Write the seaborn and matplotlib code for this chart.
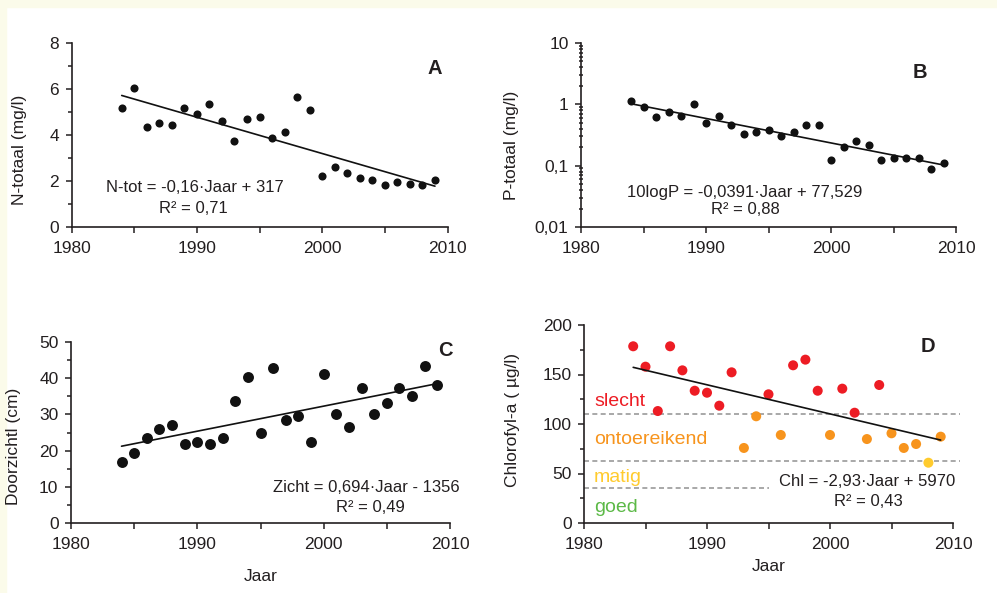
import numpy as np
import pandas as pd
import matplotlib.pyplot as plt
import matplotlib.ticker as mticker
from matplotlib.patches import Rectangle
import seaborn as sns

# jaren 1984-2009
jaar = list(range(1984, 2010))

n_tot = [5.19, 6.06, 4.36, 4.54, 4.43, 5.17, 4.93, 5.33, 4.61, 3.74, 4.68, 4.77, 3.88,
         4.13, 5.65, 5.09, 2.20, 2.61, 2.36, 2.13, 2.04, 1.81, 1.96, 1.88, 1.81, 2.06]

p_tot = [1.13, 0.92, 0.61, 0.76, 0.65, 1.01, 0.50, 0.65, 0.46, 0.33, 0.36, 0.38, 0.30,
         0.35, 0.46, 0.46, 0.125, 0.20, 0.25, 0.22, 0.125, 0.133, 0.133, 0.133, 0.089, 0.109]

zicht = [16.9, 19.4, 23.6, 26.0, 27.1, 21.9, 22.4, 21.9, 23.5, 33.6, 40.2, 24.9, 42.7,
         28.5, 29.6, 22.5, 41.2, 30.0, 26.5, 37.2, 30.0, 33.1, 37.2, 35.1, 43.3, 38.1]

chl = [178.5, 157.9, 113.1, 178.5, 154.2, 133.6, 131.6, 118.5, 152.2, 75.8, 107.8, 130.0, 88.9,
       159.3, 165.0, 133.6, 88.9, 135.7, 111.4, 84.8, 139.4, 90.6, 75.8, 79.8, 60.9, 87.2]

# klassengrenzen chlorofyl
grens = [110, 63, 35]
klassen = ['slecht', 'ontoereikend', 'matig', 'goed']
klas_kleur = {'slecht': '#ed1c24', 'ontoereikend': '#f7941d', 'matig': '#ffcb2d', 'goed': '#5cb947'}

sns.set_style('ticks')
plt.rcParams['font.family'] = ['Liberation Sans', 'DejaVu Sans']
plt.rcParams['text.color'] = '#231f20'
plt.rcParams['axes.labelcolor'] = '#231f20'
plt.rcParams['xtick.color'] = '#231f20'
plt.rcParams['ytick.color'] = '#231f20'

df = pd.DataFrame({'jaar': jaar, 'n_tot': n_tot, 'p_tot': p_tot, 'zicht': zicht, 'chl': chl})
df['klasse'] = np.select([df.chl > grens[0], df.chl > grens[1], df.chl > grens[2]],
                         klassen[:3], default=klassen[3])

W, H = 997, 593
fig = plt.figure(figsize=(W / 100, H / 100), dpi=100)
fig.patches.append(Rectangle((0, 1 - 7 / H), 1, 7 / H, transform=fig.transFigure, color='#fbfbea', zorder=-5))
fig.patches.append(Rectangle((0, 0), 6 / W, 1, transform=fig.transFigure, color='#fbfbea', zorder=-5))


def box(l, t, r, b):
    return [l / W, 1 - b / H, (r - l) / W, (b - t) / H]


def fpos(x, y):
    return x / W, 1 - y / H


axA = fig.add_axes(box(71.6, 43, 447.5, 227))
axB = fig.add_axes(box(581, 43, 956, 227))
axC = fig.add_axes(box(71, 342, 450, 523))
axD = fig.add_axes(box(584, 325, 953, 523))

fs = 12.5
komma = mticker.FuncFormatter(lambda v, p: f'{v:g}'.replace('.', ','))

for ax in [axA, axB, axC, axD]:
    ax.set_facecolor('none')
    sns.despine(ax=ax)
    ax.set_xlim(1980, 2010)
    ax.set_xticks([1980, 1990, 2000, 2010])
    ax.xaxis.set_minor_locator(mticker.MultipleLocator(5))
    ax.tick_params(axis='x', which='both', length=4, width=1.1, labelsize=fs, pad=6)
    ax.tick_params(axis='y', which='major', length=4, width=1.1, labelsize=fs, pad=5)
    ax.tick_params(axis='y', which='minor', length=3, width=1.1)
    for s in ['left', 'bottom']:
        ax.spines[s].set_linewidth(1.2)
        ax.spines[s].set_color('#231f20')

# A: stikstof
sns.regplot(data=df, x='jaar', y='n_tot', ax=axA, ci=None, truncate=True,
            scatter_kws={'s': 34, 'color': '#111111', 'linewidths': 0, 'alpha': 1},
            line_kws={'color': '#111111', 'lw': 1.2})
axA.set_ylim(0, 8)
axA.yaxis.set_major_locator(mticker.MultipleLocator(2))
axA.yaxis.set_minor_locator(mticker.MultipleLocator(1))
axA.set_xlabel('')
axA.set_ylabel('N-totaal (mg/l)', fontsize=fs)
axA.yaxis.set_label_coords(-0.118, 0.42)

# B: fosfor (log)
sns.scatterplot(data=df, x='jaar', y='p_tot', ax=axB, s=34, color='#111111', linewidth=0)
coef = np.polyfit(df.jaar, np.log10(df.p_tot), 1)
fit_b = pd.DataFrame({'jaar': [jaar[0], jaar[-1]]})
fit_b['p'] = 10 ** np.polyval(coef, fit_b.jaar)
sns.lineplot(data=fit_b, x='jaar', y='p', ax=axB, color='#111111', lw=1.2)
axB.set_yscale('log')
axB.set_ylim(0.01, 10)
axB.set_xlim(1980, 2010)
axB.yaxis.set_major_formatter(komma)
axB.yaxis.set_minor_locator(mticker.LogLocator(subs=np.arange(2, 10)))
axB.yaxis.set_minor_formatter(mticker.NullFormatter())
axB.tick_params(axis='y', which='minor', direction='inout', length=3)
axB.set_xlabel('')
axB.set_ylabel('P-totaal (mg/l)', fontsize=fs)
axB.yaxis.set_label_coords(-0.165, 0.446)

# C: doorzicht
sns.regplot(data=df, x='jaar', y='zicht', ax=axC, ci=None, truncate=True,
            scatter_kws={'s': 62, 'color': '#111111', 'linewidths': 0, 'alpha': 1},
            line_kws={'color': '#111111', 'lw': 1.2})
axC.set_ylim(0, 50)
axC.yaxis.set_major_locator(mticker.MultipleLocator(10))
axC.yaxis.set_minor_locator(mticker.MultipleLocator(5))
axC.set_xlabel('Jaar', fontsize=fs, labelpad=12)
axC.set_ylabel('Doorzichtl (cm)', fontsize=fs)
axC.yaxis.set_label_coords(-0.132, 0.425)

# D: chlorofyl
for g, xmax in zip(grens, [1.02, 1.02, 0.5]):
    axD.axhline(g, xmin=0, xmax=xmax, color='#999999', lw=1.2, ls=(0, (3, 2)), clip_on=False, zorder=1)
sns.scatterplot(data=df, x='jaar', y='chl', hue='klasse', palette=klas_kleur, ax=axD,
                s=52, linewidth=0, legend=False, zorder=3)
sns.regplot(data=df, x='jaar', y='chl', ax=axD, ci=None, truncate=True, scatter=False,
            line_kws={'color': '#111111', 'lw': 1.2, 'zorder': 4})
axD.set_ylim(0, 200)
axD.set_xlim(1980, 2010)
axD.yaxis.set_major_locator(mticker.MultipleLocator(50))
axD.yaxis.set_minor_locator(mticker.MultipleLocator(25))
axD.set_xlabel('Jaar', fontsize=fs, labelpad=5)
axD.set_ylabel('Chlorofyl-a ( µg/l)', fontsize=fs)
axD.yaxis.set_label_coords(-0.173, 0.52)

for k, y in zip(klassen, [402, 440, 477, 507]):
    fig.text(*fpos(594, y), k, color=klas_kleur[k], fontsize=14, ha='left', va='center')

# vergelijkingen en panelletters
teksten = [
    (194.7, 188, 'N-tot = -0,16·Jaar + 317'), (193.3, 208, 'R² = 0,71'),
    (745, 192, '10logP = -0,0391·Jaar + 77,529'), (745, 210, 'R² = 0,88'),
    (366, 488, 'Zicht = 0,694·Jaar - 1356'), (370.7, 508, 'R² = 0,49'),
    (867.5, 482, 'Chl = -2,93·Jaar + 5970'), (868.3, 502, 'R² = 0,43'),
]
for x, y, t in teksten:
    fig.text(*fpos(x, y), t, fontsize=12, ha='center', va='center')

for x, y, t in [(435, 69, 'A'), (920, 73, 'B'), (445, 350, 'C'), (928, 347, 'D')]:
    fig.text(*fpos(x, y), t, fontsize=14.5, fontweight='bold', ha='center', va='center')

plt.savefig('out.png', dpi=100)
